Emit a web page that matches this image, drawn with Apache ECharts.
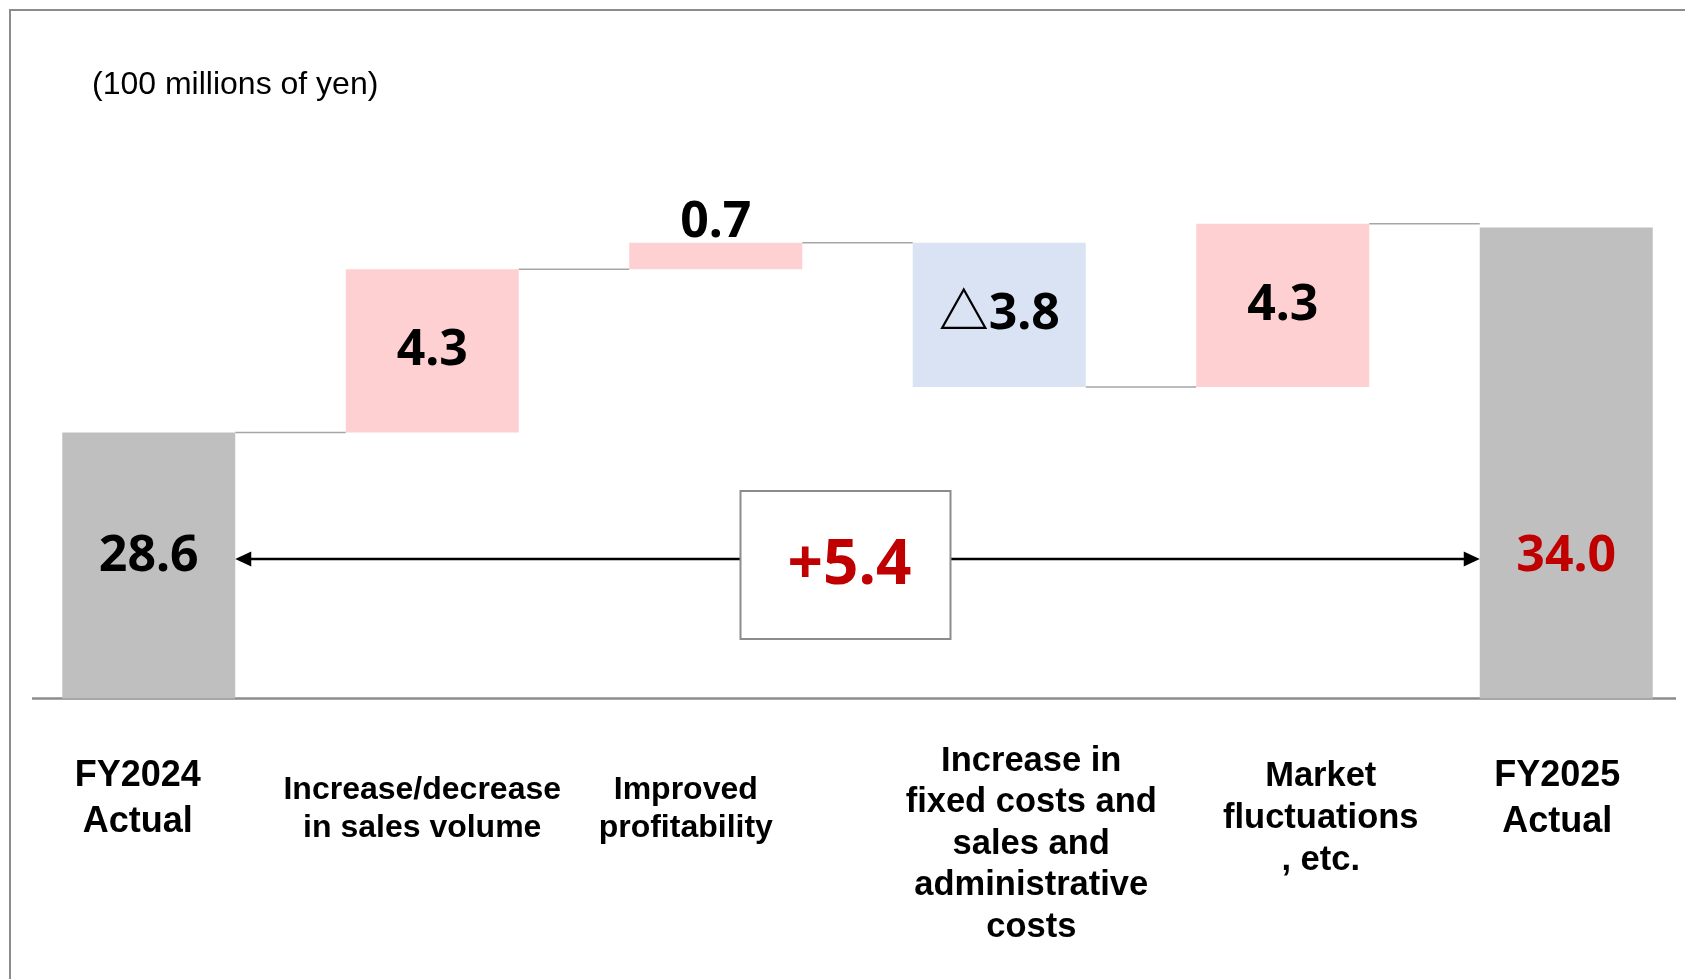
<!DOCTYPE html>
<html>
<head>
<meta charset="utf-8">
<script src="https://cdn.jsdelivr.net/npm/echarts@6.0.0/dist/echarts.min.js"></script>
<style>
  html, body { margin: 0; padding: 0; background: #fff; }
  #chart { width: 1685px; height: 979px; }
</style>
</head>
<body>
<div id="chart"></div>
<script>
// data
const categories = [
  'FY2024\nActual',
  'Increase/decrease\nin sales volume',
  'Improved\nprofitability',
  'Increase in\nfixed costs and\nsales and\nadministrative\ncosts',
  'Market\nfluctuations\n, etc.',
  'FY2025\nActual'
];
const startTotal = 28.6;
const endTotal = 34.0;
const changes = [4.3, 0.7, -3.8, 4.3];
const unitLabel = '(100 millions of yen)';

// per-label text styles (font size, line height, nudges)
const labelStyles = [
  { fontSize: 36, lineHeight: 46, padding: [13, 22, 0, 0] },
  { fontSize: 32, lineHeight: 38.5, padding: [30, 20, 0, 0] },
  { fontSize: 32, lineHeight: 38.5, padding: [30, 60, 0, 0] },
  { fontSize: 34.5, lineHeight: 41.5, padding: [0, 0, 0, 64] },
  { fontSize: 34.5, lineHeight: 42, padding: [15, 0, 0, 76] },
  { fontSize: 36, lineHeight: 46, padding: [13, 18, 0, 0] }
];

const W = 1685, H = 979;
const GRID_TOP = 151.5, GRID_BOTTOM = 280.5;
const Y_MIN = 21.6, Y_MAX = 36;
const BAR_W = 173;
const ARROW_RISE = 139.5;
const RED = '#C00000';
const NUM_FONT = '"Noto Sans", "Noto Sans CJK JP", sans-serif';

const r1 = v => Math.round(v * 10) / 10;

// waterfall pieces
const n = categories.length;
const base = new Array(n).fill('-');
const up = new Array(n).fill('-');
const down = new Array(n).fill('-');
const levels = [startTotal];
let run = startTotal;
changes.forEach((c, k) => {
  const i = k + 1;
  base[i] = c >= 0 ? run : r1(run + c);
  if (c >= 0) up[i] = c; else down[i] = -c;
  run = r1(run + c);
  levels.push(run);
});
const totals = new Array(n).fill('-');
totals[0] = startTotal;
totals[n - 1] = endTotal;

const chart = echarts.init(document.getElementById('chart'));

const numLabel = {
  show: true,
  fontFamily: NUM_FONT,
  fontWeight: 'bold',
  fontSize: 50,
  lineHeight: 50,
  color: '#000'
};

chart.setOption({
  animation: false,
  backgroundColor: '#fff',
  title: {
    text: unitLabel,
    left: 87,
    top: 64,
    textStyle: { fontFamily: '"Liberation Sans", Arial, sans-serif', fontWeight: 'normal', fontSize: 32, color: '#000' }
  },
  grid: { left: 7, width: 1701, top: GRID_TOP, bottom: GRID_BOTTOM, outerBoundsMode: 'none' },
  xAxis: {
    type: 'category',
    data: categories.map((c, i) => ({ value: c, textStyle: labelStyles[i] })),
    axisLine: { show: false },
    axisTick: { show: false },
    axisLabel: {
      interval: 0,
      margin: 42,
      align: 'center',
      fontFamily: '"Liberation Sans", Arial, sans-serif',
      fontWeight: 'bold',
      color: '#000'
    }
  },
  yAxis: { type: 'value', min: Y_MIN, max: Y_MAX, show: false },
  graphic: [
    { type: 'polyline', shape: { points: [[10, H], [10, 10], [W, 10]] }, style: { stroke: '#8c8c8c', lineWidth: 2, fill: null } },
    { type: 'line', shape: { x1: 32, y1: H - GRID_BOTTOM, x2: 1676, y2: H - GRID_BOTTOM }, style: { stroke: '#8c8c8c', lineWidth: 2.5 } }
  ],
  series: [
    {
      name: 'base', type: 'bar', stack: 'w', barWidth: BAR_W, barGap: '-100%',
      itemStyle: { color: 'transparent' }, data: base, silent: true
    },
    {
      name: 'up', type: 'bar', stack: 'w', barWidth: BAR_W, barGap: '-100%',
      itemStyle: { color: '#FFD0D1' },
      data: up.map(v => (v !== '-' && v < 1) ? { value: v, label: { position: 'top', distance: -5 } } : v),
      label: Object.assign({}, numLabel, { position: 'inside', formatter: p => p.value.toFixed(1) })
    },
    {
      name: 'down', type: 'bar', stack: 'w', barWidth: BAR_W, barGap: '-100%',
      itemStyle: { color: '#DAE3F3' },
      data: down,
      label: Object.assign({}, numLabel, { position: 'inside', formatter: p => '\u25B3' + p.value.toFixed(1) })
    },
    {
      name: 'total', type: 'bar', barWidth: BAR_W, barGap: '-100%',
      itemStyle: { color: '#BFBFBF' },
      data: totals.map((v, i) => v === '-' ? v : { value: v, label: { color: i === n - 1 ? RED : '#000' } }),
      label: Object.assign({}, numLabel, { position: 'insideBottom', distance: 117, formatter: p => p.value.toFixed(1) })
    },
    {
      name: 'connectors', type: 'custom', z: 1, silent: true,
      data: levels.slice(0, n - 1).map((v, i) => [i, v]),
      renderItem: (params, api) => {
        const i = api.value(0), lvl = api.value(1);
        const a = api.coord([i, lvl]);
        const b = api.coord([i + 1, lvl]);
        return {
          type: 'line',
          shape: { x1: a[0] + BAR_W / 2, y1: a[1], x2: b[0] - BAR_W / 2, y2: a[1] },
          style: { stroke: '#A6A6A6', lineWidth: 1.5 }
        };
      }
    },
    {
      name: 'difference', type: 'custom', z: 5, silent: true,
      data: [[0, Y_MIN, n - 1]],
      encode: { x: 0, y: 1 },
      renderItem: (params, api) => {
        const p0 = api.coord([api.value(0), Y_MIN]);
        const p1 = api.coord([api.value(2), Y_MIN]);
        const x0 = p0[0] + BAR_W / 2, x1 = p1[0] - BAR_W / 2;
        const y = p0[1] - ARROW_RISE;
        const cx = (x0 + x1) / 2 - 12, cy = y + 6;
        const bw = 210, bh = 148;
        const diff = r1(endTotal - startTotal);
        return {
          type: 'group',
          children: [
            { type: 'line', shape: { x1: x0 + 12, y1: y, x2: x1 - 12, y2: y }, style: { stroke: '#000', lineWidth: 2.5 } },
            { type: 'polygon', shape: { points: [[x0, y], [x0 + 16, y - 7.5], [x0 + 16, y + 7.5]] }, style: { fill: '#000' } },
            { type: 'polygon', shape: { points: [[x1, y], [x1 - 16, y - 7.5], [x1 - 16, y + 7.5]] }, style: { fill: '#000' } },
            { type: 'rect', shape: { x: cx - bw / 2, y: cy - bh / 2, width: bw, height: bh }, style: { fill: '#fff', stroke: '#8c8c8c', lineWidth: 2 } },
            {
              type: 'text',
              style: {
                x: cx + 4, y: cy + 1,
                text: (diff >= 0 ? '+' : '\u25B3') + Math.abs(diff).toFixed(1),
                align: 'center', verticalAlign: 'middle',
                fontFamily: NUM_FONT, fontWeight: 'bold', fontSize: 62,
                fill: RED
              }
            }
          ]
        };
      }
    }
  ]
});
</script>
</body>
</html>
